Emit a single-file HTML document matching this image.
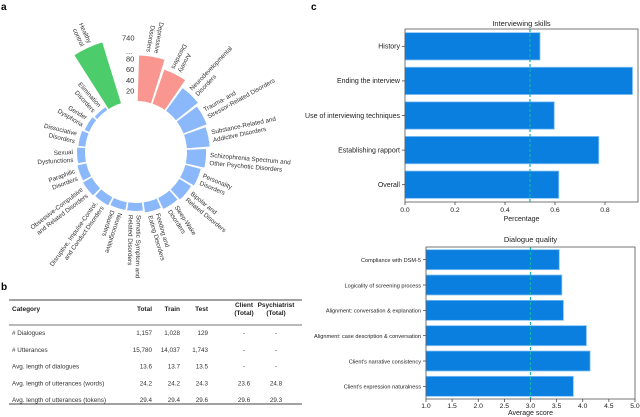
<!DOCTYPE html>
<html><head><meta charset="utf-8"><style>
html,body{margin:0;padding:0;background:#fff;width:640px;height:417px;overflow:hidden}
svg{font-family:"Liberation Sans",Arial,sans-serif;display:block}
</style></head><body>
<svg id="fig" width="640" height="417" viewBox="0 0 640 417">
<text x="1" y="10" font-size="10" font-weight="bold">a</text>
<text x="1" y="290" font-size="10" font-weight="bold">b</text>
<text x="311" y="10" font-size="10" font-weight="bold">c</text>
<g id="radial"></g>
<g id="table"></g>
<g id="chart1"></g>
<g id="chart2"></g>
</svg>
<script>
// ---- radial chart data ----
const radCategories = [["Depressive","Disorders"],["Anxiety","Disorders"],["Neurodevelopmental","Disorders"],["Trauma- and","Stressor-Related Disorders"],["Substance-Related and","Addictive Disorders"],["Schizophrenia Spectrum and","Other Psychotic Disorders"],["Personality","Disorders"],["Bipolar and","Related Disorders"],["Sleep-Wake","Disorders"],["Feeding and","Eating Disorders"],["Somatic Symptom and","Related Disorders"],["Neurocognitive","Disorders"],["Disruptive, Impulse-Control,","and Conduct Disorders"],["Obsessive-Compulsive","and Related Disorders"],["Paraphilic","Disorders"],["Sexual","Dysfunctions"],["Dissociative","Disorders"],["Gender","Dysphoria"],["Elimination","Disorders"],["Healthy","control"]];
const radValues = [86,68,53,47,43,36,30,26,23,19,15,15,17,19,17,15,13,9,6,740];
const radColors = ["#f8968f","#f8968f","#8ab8fb","#8ab8fb","#8ab8fb","#8ab8fb","#8ab8fb","#8ab8fb","#8ab8fb","#8ab8fb","#8ab8fb","#8ab8fb","#8ab8fb","#8ab8fb","#8ab8fb","#8ab8fb","#8ab8fb","#8ab8fb","#8ab8fb","#4ccc6a"];
const radTicks = [20,40,60,80,740];
// ---- table data ----
const tableHeader = [["Category"],["Total"],["Train"],["Test"],["Client","(Total)"],["Psychiatrist","(Total)"]];
const tableRows = [["# Dialogues","1,157","1,028","129","-","-"],["# Utterances","15,780","14,037","1,743","-","-"],["Avg. length of dialogues","13.6","13.7","13.5","-","-"],["Avg. length of utterances (words)","24.2","24.2","24.3","23.6","24.8"],["Avg. length of utterances (tokens)","29.4","29.4","29.6","29.6","29.3"]];
// ---- bar charts data ----
const skillCategories = ["History","Ending the interview","Use of interviewing techniques","Establishing rapport","Overall"];
const skillValues = [0.54,0.91,0.597,0.775,0.615];
const skillTicks = [0.0,0.2,0.4,0.6,0.8];
const skillRef = 0.5;
const qualityCategories = ["Compliance with DSM-5","Logicality of screening process","Alignment: conversation & explanation","Alignment: case description & conversation","Client's narrative consistency","Client's expression naturalness"];
const qualityValues = [3.55,3.6,3.63,4.07,4.14,3.82];
const qualityTicks = [1.0,1.5,2.0,2.5,3.0,3.5,4.0,4.5,5.0];
const qualityRef = 3.0;

const NS="http://www.w3.org/2000/svg";
function mk(parent,tag,attrs,text){const e=document.createElementNS(NS,tag);for(const k in attrs)e.setAttribute(k,attrs[k]);if(text!==undefined)e.textContent=text;parent.appendChild(e);return e;}

// ---- radial ----
(function(){
 const g=document.getElementById('radial');
 const cx=136,cy=152,r0=51,step=360/21,start=9.5;
 function rad(v){return v<=90? r0+v*0.53 : r0+90*0.53+(v-90)/650*16;}
 function pt(r,a){const t=a*Math.PI/180;return [cx+r*Math.sin(t),cy-r*Math.cos(t)];}
 radValues.forEach((v,i)=>{
  const ac=start+i*step,a1=ac-step/2+0.9,a2=ac+step/2-0.9,r1=rad(v);
  const p1=pt(r0,a1),p2=pt(r1,a1),p3=pt(r1,a2),p4=pt(r0,a2);
  const p=mk(g,'path',{d:`M${p1}L${p2}A${r1},${r1} 0 0 1 ${p3}L${p4}A${r0},${r0} 0 0 0 ${p1}Z`,fill:radColors[i]});
  
  
  let rot=ac-90; if(rot>180)rot-=360;
  const flip = rot< -55 || rot>115;
  if(flip) rot+= rot<0?180:-180;
  const lp=pt(r1+4,ac);
  const tg=mk(g,'g',{transform:`translate(${lp[0]},${lp[1]}) rotate(${rot})`});
  const t=mk(tg,'text',{'font-size':'6.3','fill':'#333','text-anchor':flip?'end':'start'});
  
  
  const lines=radCategories[i];
  lines.forEach((ln,j)=>{mk(t,'tspan',{x:0,y:(j-(lines.length-1)/2)*8+2.3},ln);});
 });
 radTicks.forEach(v=>{
  const y=cy-rad(v);
  const t=mk(g,'text',{x:126+(v>90?-4:0),y:y+3,'font-size':'7.5',fill:'#333','text-anchor':'start'},String(v));
  
  
 });
 mk(g,'text',{x:126,y:cy-rad(100)+1,'font-size':'7.5',fill:'#333'},'...');
})();

// ---- table ----
(function(){
 const g=document.getElementById('table');
 const colX=[12,152,180,208,244,276],anch=['start','end','end','end','middle','middle'];
 mk(g,'line',{x1:9,x2:302,y1:300,y2:300,stroke:'#444','stroke-width':1});
 mk(g,'line',{x1:9,x2:302,y1:325,y2:325,stroke:'#444','stroke-width':0.8});
 mk(g,'line',{x1:9,x2:302,y1:404,y2:404,stroke:'#444','stroke-width':1});
 tableHeader.forEach((h,i)=>{
  h.forEach((ln,j)=>{
   const y = h.length===1?311:307+j*8;
   const t=mk(g,'text',{x:colX[i],y:y,'font-size':'6.5','font-weight':'bold','text-anchor':anch[i],fill:'#222'},ln);
   
   
  });
 });
 tableRows.forEach((row,r)=>{
  row.forEach((c,i)=>{
   const t=mk(g,'text',{x:colX[i],y:335+r*16.8,'font-size':'6.3','text-anchor':anch[i],fill:'#333'},c);
   
   
  });
 });
})();

// ---- bar chart helper ----
function barChart(gid,cats,vals,ticks,ref,box,xmin,xmax,title,xlabel,titleY,lblSize,barFrac,tickOff,labOff){
 const g=document.getElementById(gid);
 const {x0,x1,y0,y1}=box;
 const sx=v=>x0+(v-xmin)/(xmax-xmin)*(x1-x0);
 const n=cats.length,band=(y1-y0)/n;
 vals.forEach((v,i)=>{
  const yc=y0+band*(i+0.5),h=band*barFrac;
  const b=mk(g,'rect',{x:sx(xmin),y:yc-h/2,width:sx(v)-sx(xmin),height:h,fill:'#0a7fe0',stroke:'#86c2f5','stroke-width':0.8});
  
  
  mk(g,'line',{x1:x0-3,x2:x0,y1:yc,y2:yc,stroke:'#333','stroke-width':0.7});
  const t=mk(g,'text',{x:x0-5,y:yc+2.3,'font-size':lblSize,'text-anchor':'end',fill:'#222'},cats[i]);
  
  
 });
 mk(g,'line',{x1:sx(ref),x2:sx(ref),y1:y0,y2:y1,stroke:'#12b8a8','stroke-width':1.2,'stroke-dasharray':'3,2'});
 mk(g,'rect',{x:x0,y:y0,width:x1-x0,height:y1-y0,fill:'none',stroke:'#555','stroke-width':0.8});
 ticks.forEach(v=>{
  mk(g,'line',{x1:sx(v),x2:sx(v),y1:y1,y2:y1+3,stroke:'#333','stroke-width':0.7});
  const t=mk(g,'text',{x:sx(v),y:y1+tickOff,'font-size':'6.8','text-anchor':'middle',fill:'#222'},v.toFixed(1));
  
  
 });
 const tt=mk(g,'text',{x:(x0+x1)/2,y:titleY,'font-size':'7.5','text-anchor':'middle',fill:'#222'},title);
 
 
 const xl=mk(g,'text',{x:(x0+x1)/2,y:y1+labOff,'font-size':'7','text-anchor':'middle',fill:'#222'},xlabel);
 
 
}
barChart('chart1',skillCategories,skillValues,skillTicks,skillRef,{x0:405,x1:638,y0:29,y1:202},0,0.932,'Interviewing skills','Percentage',26,'7',0.79,10,19);
barChart('chart2',qualityCategories,qualityValues,qualityTicks,qualityRef,{x0:426,x1:635,y0:247,y1:399},1,5,'Dialogue quality','Average score',242,'5.6',0.79,9,16);
</script>
</body></html>
